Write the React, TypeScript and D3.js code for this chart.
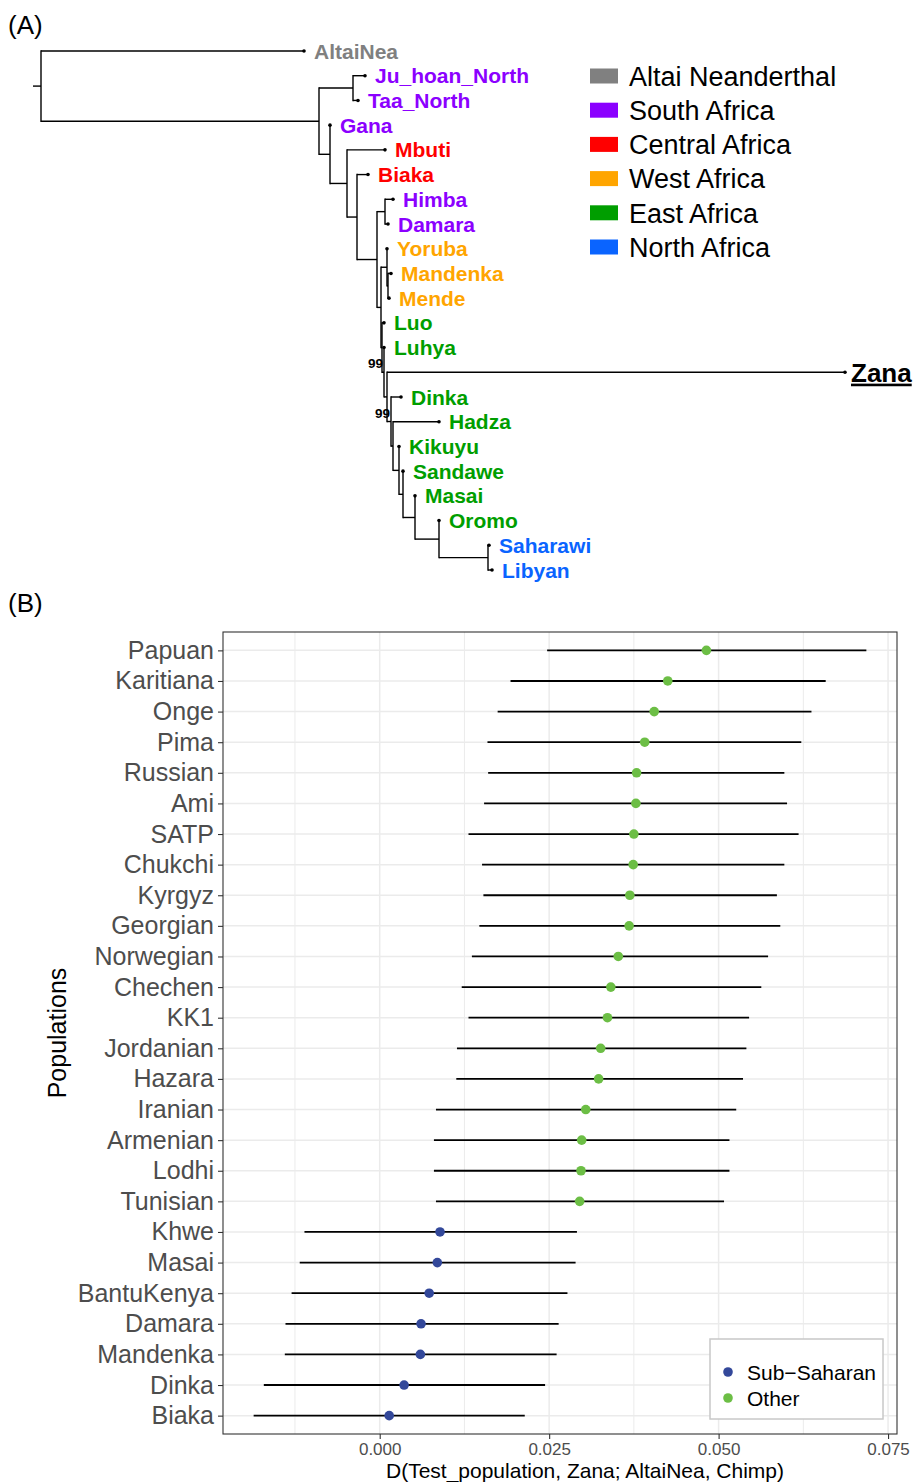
import React, { useEffect, useRef } from 'react';
import * as d3 from 'd3';

// ---- Panel A: tree (branch lengths) ----
const sah = '(Saharawi:0.001,Libyan:0.004)';
const oro = `(Oromo:0,${sah}:0.049)`;
const mas = `(Masai:0,${oro}:0.024)`;
const san = `(Sandawe:0,${mas}:0.012)`;
const kik = `(Kikuyu:0,${san}:0.004)`;
const had = `(Hadza:0.046,${kik}:0.006)`;
const din = `(Dinka:0.010,${had}:0.002)[99]`;
const zan = `(Zana:0.458,${din}:0.004)`;
const luh = `(Luhya:0,${zan}:0.003)[99]`;
const luo = `(Luo:0.002,${luh}:0.002)`;
const wst = '(Yoruba:0,(Mandenka:0.003,Mende:0.001):0.001)';
const n8 = `(${wst}:0.006,${luo}:0.001)`;
const n6 = `((Himba:0.008,Damara:0.003):0.008,${n8}:0.004)`;
const n5 = `(Biaka:0.011,${n6}:0.020)`;
const n4 = `(Mbuti:0.038,${n5}:0.010)`;
const n3 = `(Gana:0,${n4}:0.017)`;
const newick = `(AltaiNea:0.263,((Ju_hoan_North:0.012,Taa_North:0.005):0.034,${n3}:0.011):0.278);`;

const regionNames = ['Altai Neanderthal', 'South Africa', 'Central Africa', 'West Africa', 'East Africa', 'North Africa'];
const regionColors = ['#808080', '#8B00FF', '#FF0000', '#FFA500', '#009E00', '#0A64FF'];
const regionMembers = [
  ['AltaiNea'],
  ['Ju_hoan_North', 'Taa_North', 'Gana', 'Himba', 'Damara'],
  ['Mbuti', 'Biaka'],
  ['Yoruba', 'Mandenka', 'Mende'],
  ['Luo', 'Luhya', 'Dinka', 'Hadza', 'Kikuyu', 'Sandawe', 'Masai', 'Oromo'],
  ['Saharawi', 'Libyan'],
];

// ---- Panel B: D statistics ----
const populations = ['Papuan', 'Karitiana', 'Onge', 'Pima', 'Russian', 'Ami', 'SATP', 'Chukchi', 'Kyrgyz', 'Georgian',
  'Norwegian', 'Chechen', 'KK1', 'Jordanian', 'Hazara', 'Iranian', 'Armenian', 'Lodhi', 'Tunisian',
  'Khwe', 'Masai', 'BantuKenya', 'Damara', 'Mandenka', 'Dinka', 'Biaka'];
const dValue = [0.0482, 0.0425, 0.0405, 0.0391, 0.0379, 0.0378, 0.0375, 0.0374, 0.0369, 0.0368,
  0.0352, 0.0341, 0.0336, 0.0326, 0.0323, 0.0304, 0.0298, 0.0297, 0.0295,
  0.0089, 0.0085, 0.0073, 0.0061, 0.0060, 0.0036, 0.0014];
const ciLow = [0.0247, 0.0193, 0.0174, 0.0159, 0.0160, 0.0154, 0.0131, 0.0151, 0.0153, 0.0147,
  0.0136, 0.0121, 0.0131, 0.0114, 0.0113, 0.0083, 0.0080, 0.0080, 0.0083,
  -0.0111, -0.0118, -0.0130, -0.0139, -0.0140, -0.0171, -0.0186];
const ciHigh = [0.0718, 0.0658, 0.0637, 0.0622, 0.0597, 0.0601, 0.0618, 0.0597, 0.0586, 0.0591,
  0.0573, 0.0563, 0.0545, 0.0541, 0.0536, 0.0526, 0.0516, 0.0516, 0.0508,
  0.0291, 0.0289, 0.0277, 0.0264, 0.0261, 0.0244, 0.0214];
const subSaharan = ['Khwe', 'Masai', 'BantuKenya', 'Damara', 'Mandenka', 'Dinka', 'Biaka'];
const groupNames = ['Sub\u2212Saharan', 'Other'];
const groupColors = ['#33489A', '#6CBE45'];
const xTicks = [0, 0.025, 0.05, 0.075];

interface TNode { name?: string; length?: number; label?: string; children?: TNode[] }

function parseNewick(s: string): TNode {
  const tokens = s.split(/\s*(;|\(|\)|,|:|\[[^\]]*\])\s*/).filter(t => t !== '');
  const stack: TNode[] = [];
  let node: TNode = {};
  for (let i = 0; i < tokens.length; i++) {
    const t = tokens[i];
    const prev = tokens[i - 1];
    if (t === '(') {
      const child: TNode = {};
      node.children = [child];
      stack.push(node);
      node = child;
    } else if (t === ',') {
      const child: TNode = {};
      stack[stack.length - 1].children!.push(child);
      node = child;
    } else if (t === ')') {
      node = stack.pop()!;
    } else if (t === ':' || t === ';') {
      // nothing
    } else if (t.startsWith('[')) {
      node.label = t.slice(1, -1);
    } else if (prev === ':') {
      node.length = parseFloat(t);
    } else {
      node.name = t;
    }
  }
  return node;
}

export default function App() {
  const svgRef = useRef<SVGSVGElement>(null);

  useEffect(() => {
    if (!svgRef.current) return;
    const svg = d3.select(svgRef.current);
    svg.selectAll('*').remove();
    const font = "'Liberation Sans', Arial, Helvetica, sans-serif";

    // ================= Panel A =================
    svg.append('text').attr('x', 8).attr('y', 34).attr('font-family', font)
      .attr('font-size', 26).attr('fill', '#000').text('(A)');

    const root = d3.hierarchy(parseNewick(newick));
    const depth = new Map<any, number>();
    root.each(n => {
      depth.set(n, (n.parent ? depth.get(n.parent)! : 0) + (n.data.length || 0));
    });
    const leaves = root.leaves();
    const xT = d3.scaleLinear().domain([0, d3.max(leaves, l => depth.get(l)!)!]).range([41, 845]);
    const yT = d3.scalePoint<string>().domain(leaves.map(l => l.data.name!)).range([51, 570]);
    const yPos = new Map<any, number>();
    root.eachAfter(n => {
      if (n.children) yPos.set(n, d3.mean(n.children, c => yPos.get(c)!)!);
      else yPos.set(n, yT(n.data.name!)!);
    });

    const colorOf = (name: string) => {
      const idx = regionMembers.findIndex(m => m.includes(name));
      return idx >= 0 ? regionColors[idx] : '#000';
    };

    const tree = svg.append('g');
    // horizontal branches
    tree.selectAll('.hbranch')
      .data(root.descendants().filter(n => n.parent))
      .enter().append('line')
      .attr('x1', n => xT(depth.get(n.parent)!))
      .attr('x2', n => xT(depth.get(n)!))
      .attr('y1', n => yPos.get(n)!)
      .attr('y2', n => yPos.get(n)!)
      .attr('stroke', '#000').attr('stroke-width', 1.4);
    // vertical connectors
    tree.selectAll('.vbranch')
      .data(root.descendants().filter(n => n.children))
      .enter().append('line')
      .attr('x1', n => xT(depth.get(n)!))
      .attr('x2', n => xT(depth.get(n)!))
      .attr('y1', n => d3.min(n.children!, c => yPos.get(c)!)!)
      .attr('y2', n => d3.max(n.children!, c => yPos.get(c)!)!)
      .attr('stroke', '#000').attr('stroke-width', 1.4).attr('stroke-linecap', 'square');
    // root stub
    tree.append('line')
      .attr('x1', xT(0) - 8).attr('x2', xT(0))
      .attr('y1', yPos.get(root)!).attr('y2', yPos.get(root)!)
      .attr('stroke', '#000').attr('stroke-width', 1.4);
    // tip points
    tree.selectAll('.tip')
      .data(leaves)
      .enter().append('circle')
      .attr('cx', n => xT(depth.get(n)!))
      .attr('cy', n => yPos.get(n)!)
      .attr('r', 1.8).attr('fill', '#000');
    // tip labels
    tree.selectAll('.tiplab')
      .data(leaves)
      .enter().append('text')
      .attr('x', n => xT(depth.get(n)!) + (n.data.name === 'Zana' ? 6 : 10))
      .attr('y', n => yPos.get(n)!)
      .attr('dy', '0.36em')
      .attr('font-family', font)
      .attr('font-weight', 'bold')
      .attr('font-size', n => (n.data.name === 'Zana' ? 26 : 21))
      .attr('text-decoration', n => (n.data.name === 'Zana' ? 'underline' : null))
      .attr('fill', n => colorOf(n.data.name!))
      .text(n => n.data.name!);
    // bootstrap labels
    tree.selectAll('.nodelab')
      .data(root.descendants().filter(n => n.data.label))
      .enter().append('text')
      .attr('x', n => xT(depth.get(n)!) - 1)
      .attr('y', n => yPos.get(n)! - 4)
      .attr('text-anchor', 'end')
      .attr('font-family', font)
      .attr('font-weight', 'bold')
      .attr('font-size', 13.5)
      .attr('fill', '#000')
      .text(n => n.data.label!);

    // legend A
    const legA = svg.append('g').attr('transform', 'translate(590,76)');
    regionNames.forEach((name, i) => {
      const g = legA.append('g').attr('transform', `translate(0,${i * 34.2})`);
      g.append('rect').attr('x', 0).attr('y', -7.5).attr('width', 28).attr('height', 15).attr('fill', regionColors[i]);
      g.append('text').attr('x', 39).attr('y', 0).attr('dy', '0.36em')
        .attr('font-family', font).attr('font-size', 27).attr('fill', '#000').text(name);
    });

    // ================= Panel B =================
    svg.append('text').attr('x', 8).attr('y', 612).attr('font-family', font)
      .attr('font-size', 26).attr('fill', '#000').text('(B)');

    const left = 223, right = 897, top = 632, bottom = 1434;
    const lo = d3.min(ciLow)!, hi = d3.max(ciHigh)!;
    const pad = (hi - lo) * 0.05;
    const x = d3.scaleLinear().domain([lo - pad, hi + pad]).range([left, right]);
    const y = d3.scalePoint<string>().domain(populations).range([top, bottom]).padding(0.6);

    const pB = svg.append('g');
    pB.append('rect').attr('x', left).attr('y', top).attr('width', right - left).attr('height', bottom - top).attr('fill', '#fff');

    const minor = xTicks.slice(0, -1).map((t, i) => (t + xTicks[i + 1]) / 2).concat([xTicks[0] - 0.0125]);
    pB.selectAll('.minor')
      .data(minor.filter(v => x(v) > left && x(v) < right))
      .enter().append('line')
      .attr('x1', d => x(d)).attr('x2', d => x(d)).attr('y1', top).attr('y2', bottom)
      .attr('stroke', '#EBEBEB').attr('stroke-width', 1);
    pB.selectAll('.majorx')
      .data(xTicks.filter(v => x(v) < right))
      .enter().append('line')
      .attr('x1', d => x(d)).attr('x2', d => x(d)).attr('y1', top).attr('y2', bottom)
      .attr('stroke', '#EBEBEB').attr('stroke-width', 1.5);
    pB.selectAll('.majory')
      .data(populations)
      .enter().append('line')
      .attr('x1', left).attr('x2', right).attr('y1', d => y(d)!).attr('y2', d => y(d)!)
      .attr('stroke', '#EBEBEB').attr('stroke-width', 1.5);

    // error bars
    pB.selectAll('.ci')
      .data(populations)
      .enter().append('line')
      .attr('x1', (d, i) => x(ciLow[i])).attr('x2', (d, i) => x(ciHigh[i]))
      .attr('y1', d => y(d)!).attr('y2', d => y(d)!)
      .attr('stroke', '#000').attr('stroke-width', 1.8);
    // points
    pB.selectAll('.pt')
      .data(populations)
      .enter().append('circle')
      .attr('cx', (d, i) => x(dValue[i])).attr('cy', d => y(d)!)
      .attr('r', 4.8)
      .attr('fill', d => (subSaharan.includes(d) ? groupColors[0] : groupColors[1]));

    // border
    pB.append('rect').attr('x', left).attr('y', top).attr('width', right - left).attr('height', bottom - top)
      .attr('fill', 'none').attr('stroke', '#333').attr('stroke-width', 1.1);

    // y axis
    const yAxis = pB.append('g').attr('transform', `translate(${left},0)`)
      .call(d3.axisLeft(y).tickSize(5).tickPadding(4));
    yAxis.select('.domain').remove();
    yAxis.selectAll('line').attr('stroke', '#333').attr('stroke-width', 1.1);
    yAxis.selectAll('text').attr('font-family', font).attr('font-size', 25).attr('fill', '#4D4D4D');

    // x axis
    const xAxis = pB.append('g').attr('transform', `translate(0,${bottom})`)
      .call(d3.axisBottom(x).tickValues(xTicks).tickFormat(d3.format('.3f')).tickSize(5).tickPadding(4));
    xAxis.select('.domain').remove();
    xAxis.selectAll('line').attr('stroke', '#333').attr('stroke-width', 1.1);
    xAxis.selectAll('text').attr('font-family', font).attr('font-size', 17).attr('fill', '#4D4D4D');

    // titles
    svg.append('text').attr('x', 585).attr('y', 1478).attr('text-anchor', 'middle')
      .attr('font-family', font).attr('font-size', 21).attr('fill', '#000')
      .text('D(Test_population, Zana; AltaiNea, Chimp)');
    svg.append('text').attr('transform', `translate(66,${(top + bottom) / 2}) rotate(-90)`)
      .attr('text-anchor', 'middle').attr('font-family', font).attr('font-size', 25).attr('fill', '#000')
      .text('Populations');

    // legend B
    const legB = svg.append('g').attr('transform', 'translate(710,1339)');
    legB.append('rect').attr('x', 0).attr('y', 0).attr('width', 173).attr('height', 80)
      .attr('fill', '#fff').attr('stroke', '#C8C8C8').attr('stroke-width', 1.5);
    groupNames.forEach((name, i) => {
      legB.append('circle').attr('cx', 18).attr('cy', 33 + i * 26).attr('r', 4.8).attr('fill', groupColors[i]);
      legB.append('text').attr('x', 37).attr('y', 33 + i * 26).attr('dy', '0.36em')
        .attr('font-family', font).attr('font-size', 21).attr('fill', '#000').text(name);
    });
  }, []);

  return (
    <svg
      ref={svgRef}
      width={914}
      height={1482}
      style={{ position: 'absolute', left: 0, top: 0, background: '#fff', display: 'block' }}
    />
  );
}
